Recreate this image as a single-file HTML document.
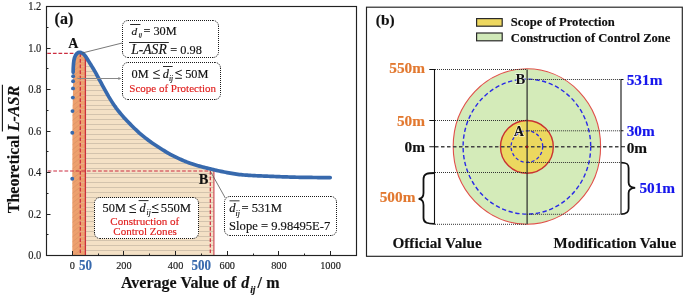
<!DOCTYPE html>
<html><head><meta charset="utf-8"><style>html,body{margin:0;padding:0;background:#fff;overflow:hidden}svg{display:block;will-change:transform}text{font-family:"Liberation Serif",serif}</style></head><body>
<svg width="685" height="297" viewBox="0 0 685 297" font-family="Liberation Serif">
<defs>
<pattern id="hz" patternUnits="userSpaceOnUse" x="0" y="2.1" width="10" height="4.855"><rect width="10" height="4.855" fill="#f4e1c6"/><rect y="0" width="10" height="1" fill="#dccab2"/></pattern>
<pattern id="hz2" patternUnits="userSpaceOnUse" x="0" y="2.1" width="10" height="4.855"><rect width="10" height="4.855" fill="#eda06e"/><rect y="0" width="10" height="1" fill="#e2a57e"/></pattern>
<pattern id="dg" patternUnits="userSpaceOnUse" width="7.5" height="7.5" patternTransform="rotate(-40)"><rect width="7.5" height="7.5" fill="#eda06e"/><rect width="7.5" height="0.6" fill="#d6946a"/></pattern>
</defs>
<rect width="685" height="297" fill="#fff"/>
<clipPath id="bc"><polygon points="85.40,255.50 85.40,56.19 86.84,58.24 88.29,60.64 89.73,62.95 91.18,65.28 92.62,67.62 94.06,70.00 95.51,72.50 96.95,75.15 98.39,77.89 99.84,80.60 101.28,83.25 102.73,85.89 104.17,88.51 105.61,91.10 107.06,93.71 108.50,96.27 109.94,98.71 111.39,101.02 112.83,103.25 114.28,105.37 115.72,107.40 117.16,109.32 118.61,111.17 120.05,112.96 121.50,114.70 122.94,116.39 124.38,118.02 125.83,119.60 127.27,121.11 128.71,122.59 130.16,124.06 131.60,125.53 133.05,126.99 134.49,128.41 135.93,129.79 137.38,131.15 138.82,132.47 140.27,133.73 141.71,134.95 143.15,136.15 144.60,137.32 146.04,138.47 147.48,139.58 148.93,140.66 150.37,141.72 151.82,142.74 153.26,143.73 154.70,144.69 156.15,145.63 157.59,146.56 159.03,147.49 160.48,148.40 161.92,149.33 163.37,150.24 164.81,151.15 166.25,152.04 167.70,152.90 169.14,153.73 170.59,154.52 172.03,155.28 173.47,156.02 174.92,156.73 176.36,157.43 177.80,158.10 179.25,158.76 180.69,159.41 182.14,160.04 183.58,160.67 185.02,161.28 186.47,161.87 187.91,162.43 189.36,162.97 190.80,163.48 192.24,163.97 193.69,164.43 195.13,164.88 196.57,165.32 198.02,165.74 199.46,166.15 200.91,166.55 202.35,166.94 203.79,167.32 205.24,167.68 206.68,168.04 208.12,168.40 209.57,168.75 211.01,169.09 212.46,169.44 213.90,169.78 213.90,255.50"/></clipPath>
<polygon points="85.40,255.50 85.40,56.19 86.84,58.24 88.29,60.64 89.73,62.95 91.18,65.28 92.62,67.62 94.06,70.00 95.51,72.50 96.95,75.15 98.39,77.89 99.84,80.60 101.28,83.25 102.73,85.89 104.17,88.51 105.61,91.10 107.06,93.71 108.50,96.27 109.94,98.71 111.39,101.02 112.83,103.25 114.28,105.37 115.72,107.40 117.16,109.32 118.61,111.17 120.05,112.96 121.50,114.70 122.94,116.39 124.38,118.02 125.83,119.60 127.27,121.11 128.71,122.59 130.16,124.06 131.60,125.53 133.05,126.99 134.49,128.41 135.93,129.79 137.38,131.15 138.82,132.47 140.27,133.73 141.71,134.95 143.15,136.15 144.60,137.32 146.04,138.47 147.48,139.58 148.93,140.66 150.37,141.72 151.82,142.74 153.26,143.73 154.70,144.69 156.15,145.63 157.59,146.56 159.03,147.49 160.48,148.40 161.92,149.33 163.37,150.24 164.81,151.15 166.25,152.04 167.70,152.90 169.14,153.73 170.59,154.52 172.03,155.28 173.47,156.02 174.92,156.73 176.36,157.43 177.80,158.10 179.25,158.76 180.69,159.41 182.14,160.04 183.58,160.67 185.02,161.28 186.47,161.87 187.91,162.43 189.36,162.97 190.80,163.48 192.24,163.97 193.69,164.43 195.13,164.88 196.57,165.32 198.02,165.74 199.46,166.15 200.91,166.55 202.35,166.94 203.79,167.32 205.24,167.68 206.68,168.04 208.12,168.40 209.57,168.75 211.01,169.09 212.46,169.44 213.90,169.78 213.90,255.50" fill="#f4e1c6"/>
<path d="M85.4,250.5H213.9 M85.4,245.5H213.9 M85.4,240.5H213.9 M85.4,236.5H213.9 M85.4,231.5H213.9 M85.4,226.5H213.9 M85.4,221.5H213.9 M85.4,216.5H213.9 M85.4,211.5H213.9 M85.4,207.5H213.9 M85.4,202.5H213.9 M85.4,197.5H213.9 M85.4,192.5H213.9 M85.4,187.5H213.9 M85.4,182.5H213.9 M85.4,177.5H213.9 M85.4,173.5H213.9 M85.4,168.5H213.9 M85.4,163.5H213.9 M85.4,158.5H213.9 M85.4,153.5H213.9 M85.4,148.5H213.9 M85.4,143.5H213.9 M85.4,139.5H213.9 M85.4,134.5H213.9 M85.4,129.5H213.9 M85.4,124.5H213.9 M85.4,119.5H213.9 M85.4,114.5H213.9 M85.4,109.5H213.9 M85.4,105.5H213.9 M85.4,100.5H213.9 M85.4,95.5H213.9 M85.4,90.5H213.9 M85.4,85.5H213.9 M85.4,80.5H213.9 M85.4,75.5H213.9 M85.4,71.5H213.9 M85.4,66.5H213.9 M85.4,61.5H213.9 M85.4,56.5H213.9 M85.4,51.5H213.9 M85.4,46.5H213.9" stroke="#d3c3ad" stroke-width="1" fill="none" clip-path="url(#bc)"/>
<clipPath id="oc"><polygon points="72.30,255.50 72.30,178.80 72.50,111.00 72.90,97.60 73.10,81.00 73.15,72.30 73.25,68.00 73.50,64.00 73.90,60.50 74.60,57.50 75.60,55.20 77.00,53.50 78.20,52.60 79.30,52.30 80.17,52.40 81.04,52.66 81.91,53.02 82.79,53.46 83.66,54.16 84.53,55.11 85.40,56.19 85.40,255.50"/></clipPath>
<polygon points="72.30,255.50 72.30,178.80 72.50,111.00 72.90,97.60 73.10,81.00 73.15,72.30 73.25,68.00 73.50,64.00 73.90,60.50 74.60,57.50 75.60,55.20 77.00,53.50 78.20,52.60 79.30,52.30 80.17,52.40 81.04,52.66 81.91,53.02 82.79,53.46 83.66,54.16 84.53,55.11 85.40,56.19 85.40,255.50" fill="#eda06e"/>
<g clip-path="url(#oc)"><path d="M80.3,41.43L72.3,47.73 M80.3,46.29L72.3,52.59 M80.3,51.14L72.3,57.44 M80.3,56.00L72.3,62.30 M80.3,60.85L72.3,67.15 M80.3,65.71L72.3,72.01 M80.3,70.56L72.3,76.86 M80.3,75.42L72.3,81.72 M80.3,80.27L72.3,86.57 M80.3,85.13L72.3,91.43 M80.3,89.98L72.3,96.28 M80.3,94.84L72.3,101.14 M80.3,99.69L72.3,105.99 M80.3,104.55L72.3,110.85 M80.3,109.40L72.3,115.70 M80.3,114.26L72.3,120.56 M80.3,119.11L72.3,125.41 M80.3,123.97L72.3,130.27 M80.3,128.82L72.3,135.12 M80.3,133.68L72.3,139.98 M80.3,138.53L72.3,144.83 M80.3,143.39L72.3,149.69 M80.3,148.24L72.3,154.54 M80.3,153.10L72.3,159.40 M80.3,157.95L72.3,164.25 M80.3,162.81L72.3,169.11 M80.3,167.66L72.3,173.96 M80.3,172.52L72.3,178.82 M80.3,177.38L72.3,183.68 M80.3,182.23L72.3,188.53 M80.3,187.08L72.3,193.38 M80.3,191.94L72.3,198.24 M80.3,196.79L72.3,203.09 M80.3,201.65L72.3,207.95 M80.3,206.50L72.3,212.81 M80.3,211.36L72.3,217.66 M80.3,216.21L72.3,222.51 M80.3,221.07L72.3,227.37 M80.3,225.92L72.3,232.22 M80.3,230.78L72.3,237.08 M80.3,235.63L72.3,241.94 M80.3,240.49L72.3,246.79 M80.3,245.34L72.3,251.65 M80.3,250.20L72.3,256.50 M80.3,255.05L72.3,261.35 M80.3,259.91L72.3,266.21" stroke="#d89466" stroke-width="0.7" fill="none"/><path d="M80.3,41.5H85.4 M80.3,46.5H85.4 M80.3,51.5H85.4 M80.3,56.5H85.4 M80.3,61.5H85.4 M80.3,66.5H85.4 M80.3,71.5H85.4 M80.3,75.5H85.4 M80.3,80.5H85.4 M80.3,85.5H85.4 M80.3,90.5H85.4 M80.3,95.5H85.4 M80.3,100.5H85.4 M80.3,105.5H85.4 M80.3,109.5H85.4 M80.3,114.5H85.4 M80.3,119.5H85.4 M80.3,124.5H85.4 M80.3,129.5H85.4 M80.3,134.5H85.4 M80.3,139.5H85.4 M80.3,143.5H85.4 M80.3,148.5H85.4 M80.3,153.5H85.4 M80.3,158.5H85.4 M80.3,163.5H85.4 M80.3,168.5H85.4 M80.3,173.5H85.4 M80.3,177.5H85.4 M80.3,182.5H85.4 M80.3,187.5H85.4 M80.3,192.5H85.4 M80.3,197.5H85.4 M80.3,202.5H85.4 M80.3,207.5H85.4 M80.3,211.5H85.4 M80.3,216.5H85.4 M80.3,221.5H85.4 M80.3,226.5H85.4 M80.3,231.5H85.4 M80.3,236.5H85.4 M80.3,240.5H85.4 M80.3,245.5H85.4 M80.3,250.5H85.4 M80.3,255.5H85.4 M80.3,260.5H85.4" stroke="#e8b08a" stroke-width="0.9" fill="none"/></g>
<line x1="85.4" y1="56.2" x2="85.4" y2="255.5" stroke="#cc2f3c" stroke-width="1.3"/>
<line x1="213.9" y1="169.8" x2="213.9" y2="255.5" stroke="#d0505a" stroke-width="1.2"/>
<line x1="47.3" y1="53.4" x2="80.3" y2="53.4" stroke="#cc2d40" stroke-width="1.2" stroke-dasharray="3.7 1.9"/>
<line x1="80.3" y1="53.4" x2="80.3" y2="255.5" stroke="#cc2d40" stroke-width="1.2" stroke-dasharray="3.7 1.9"/>
<line x1="47.7" y1="171.0" x2="210.3" y2="171.0" stroke="#cc2d40" stroke-width="1.2" stroke-dasharray="3.7 1.9"/>
<line x1="210.3" y1="171.0" x2="210.3" y2="255.5" stroke="#cc2d40" stroke-width="1.2" stroke-dasharray="3.7 1.9"/>
<path d="M73.15,72.30 L73.25,68.00 L73.50,64.00 L73.90,60.50 L74.60,57.50 L75.60,55.20 L77.00,53.50 L78.20,52.60 L79.30,52.30 L80.01,52.37 L80.73,52.55 L81.44,52.82 L82.16,53.14 L82.87,53.51 L83.58,54.09 L84.30,54.84 L85.01,55.70 L85.72,56.60 L86.44,57.60 L87.15,58.75 L87.87,59.95 L88.58,61.11 L89.29,62.25 L90.01,63.39 L90.72,64.55 L91.43,65.70 L92.15,66.86 L92.86,68.02 L93.58,69.19 L94.29,70.38 L95.00,71.61 L95.72,72.88 L96.43,74.18 L97.14,75.52 L97.86,76.87 L98.57,78.23 L99.29,79.57 L100.00,80.90 L101.00,82.74 L102.54,85.55 L104.08,88.34 L105.61,91.10 L107.15,93.88 L108.69,96.60 L110.23,99.17 L111.77,101.62 L113.31,103.96 L114.84,106.18 L116.38,108.29 L117.92,110.30 L119.46,112.23 L121.00,114.11 L122.54,115.92 L124.07,117.67 L125.61,119.36 L127.15,120.99 L128.69,122.57 L130.23,124.13 L131.77,125.70 L133.30,127.24 L134.84,128.75 L136.38,130.21 L137.92,131.65 L139.46,133.03 L140.99,134.35 L142.53,135.64 L144.07,136.90 L145.61,138.13 L147.15,139.32 L148.69,140.49 L150.22,141.61 L151.76,142.70 L153.30,143.75 L154.84,144.78 L156.38,145.78 L157.92,146.77 L159.45,147.75 L160.99,148.73 L162.53,149.71 L164.07,150.68 L165.61,151.64 L167.14,152.57 L168.68,153.47 L170.22,154.32 L171.76,155.14 L173.30,155.93 L174.84,156.69 L176.37,157.43 L177.91,158.15 L179.45,158.85 L180.99,159.54 L182.53,160.21 L184.07,160.88 L185.60,161.52 L187.14,162.13 L188.68,162.72 L190.22,163.28 L191.76,163.80 L193.30,164.31 L194.83,164.79 L196.37,165.26 L197.91,165.71 L199.45,166.15 L200.99,166.57 L202.52,166.99 L204.06,167.38 L205.60,167.77 L207.14,168.15 L208.68,168.53 L210.22,168.90 L211.75,169.27 L213.29,169.64 L214.83,170.00 L216.37,170.35 L217.91,170.70 L219.45,171.03 L220.98,171.36 L222.52,171.68 L224.06,171.99 L225.60,172.29 L227.14,172.59 L228.68,172.87 L230.21,173.14 L231.75,173.40 L233.29,173.66 L234.83,173.90 L236.37,174.14 L237.90,174.35 L239.44,174.54 L240.98,174.70 L242.52,174.84 L244.06,174.98 L245.60,175.10 L247.13,175.21 L248.67,175.32 L250.21,175.41 L251.75,175.50 L253.29,175.59 L254.83,175.66 L256.36,175.74 L257.90,175.81 L259.44,175.88 L260.98,175.94 L262.52,176.01 L264.06,176.07 L265.59,176.13 L267.13,176.19 L268.67,176.25 L270.21,176.31 L271.75,176.37 L273.28,176.44 L274.82,176.50 L276.36,176.56 L277.90,176.62 L279.44,176.68 L280.98,176.73 L282.51,176.79 L284.05,176.84 L285.59,176.90 L287.13,176.95 L288.67,177.00 L290.21,177.06 L291.74,177.10 L293.28,177.15 L294.82,177.19 L296.36,177.23 L297.90,177.26 L299.43,177.29 L300.97,177.31 L302.51,177.34 L304.05,177.36 L305.59,177.38 L307.13,177.41 L308.66,177.43 L310.20,177.45 L311.74,177.47 L313.28,177.49 L314.82,177.51 L316.36,177.52 L317.89,177.54 L319.43,177.55 L320.97,177.56 L322.51,177.57 L324.05,177.58 L325.59,177.59 L327.12,177.60 L328.66,177.60 L330.20,177.60" fill="none" stroke="#3769ad" stroke-width="3.7" stroke-linecap="round" stroke-linejoin="round"/>
<circle cx="72.25" cy="178.8" r="1.95" fill="#3769ad"/>
<circle cx="72.3" cy="132.7" r="1.95" fill="#3769ad"/>
<circle cx="72.5" cy="111.1" r="1.95" fill="#3769ad"/>
<circle cx="72.85" cy="97.6" r="1.95" fill="#3769ad"/>
<circle cx="73.0" cy="88.4" r="1.95" fill="#3769ad"/>
<circle cx="73.1" cy="81.2" r="1.95" fill="#3769ad"/>
<circle cx="73.15" cy="76.3" r="1.95" fill="#3769ad"/>
<rect x="46.5" y="6.5" width="310" height="249" fill="none" stroke="#222" stroke-width="1.15"/>
<path d="M46.5,255.50h4 M46.5,234.50h2 M46.5,214.50h4 M46.5,193.50h2 M46.5,172.50h4 M46.5,151.50h2 M46.5,131.50h4 M46.5,110.50h2 M46.5,89.50h4 M46.5,68.50h2 M46.5,48.50h4 M46.5,27.50h2 M46.5,6.50h4 M72.50,255.5v-4.5 M98.50,255.5v-2 M123.50,255.5v-4.5 M149.50,255.5v-2 M175.50,255.5v-4.5 M201.50,255.5v-2 M227.50,255.5v-4.5 M253.50,255.5v-2 M278.50,255.5v-4.5 M304.50,255.5v-2 M330.50,255.5v-4.5" stroke="#222" stroke-width="1" fill="none"/>
<text transform="translate(41.3,259.30) scale(1,1.1)" font-size="10.5" text-anchor="end" fill="#1a1a1a" stroke="#1a1a1a" stroke-width="0.15">0.0</text>
<text transform="translate(41.3,217.82) scale(1,1.1)" font-size="10.5" text-anchor="end" fill="#1a1a1a" stroke="#1a1a1a" stroke-width="0.15">0.2</text>
<text transform="translate(41.3,176.34) scale(1,1.1)" font-size="10.5" text-anchor="end" fill="#1a1a1a" stroke="#1a1a1a" stroke-width="0.15">0.4</text>
<text transform="translate(41.3,134.86) scale(1,1.1)" font-size="10.5" text-anchor="end" fill="#1a1a1a" stroke="#1a1a1a" stroke-width="0.15">0.6</text>
<text transform="translate(41.3,93.38) scale(1,1.1)" font-size="10.5" text-anchor="end" fill="#1a1a1a" stroke="#1a1a1a" stroke-width="0.15">0.8</text>
<text transform="translate(41.3,51.90) scale(1,1.1)" font-size="10.5" text-anchor="end" fill="#1a1a1a" stroke="#1a1a1a" stroke-width="0.15">1.0</text>
<text transform="translate(41.3,10.42) scale(1,1.1)" font-size="10.5" text-anchor="end" fill="#1a1a1a" stroke="#1a1a1a" stroke-width="0.15">1.2</text>
<text transform="translate(72.30,269.0) scale(1,1.1)" font-size="10.3" text-anchor="middle" fill="#1a1a1a" stroke="#1a1a1a" stroke-width="0.15">0</text>
<text transform="translate(123.94,269.0) scale(1,1.1)" font-size="10.3" text-anchor="middle" fill="#1a1a1a" stroke="#1a1a1a" stroke-width="0.15">200</text>
<text transform="translate(175.58,269.0) scale(1,1.1)" font-size="10.3" text-anchor="middle" fill="#1a1a1a" stroke="#1a1a1a" stroke-width="0.15">400</text>
<text transform="translate(227.22,269.0) scale(1,1.1)" font-size="10.3" text-anchor="middle" fill="#1a1a1a" stroke="#1a1a1a" stroke-width="0.15">600</text>
<text transform="translate(278.86,269.0) scale(1,1.1)" font-size="10.3" text-anchor="middle" fill="#1a1a1a" stroke="#1a1a1a" stroke-width="0.15">800</text>
<text transform="translate(330.50,269.0) scale(1,1.1)" font-size="10.3" text-anchor="middle" fill="#1a1a1a" stroke="#1a1a1a" stroke-width="0.15">1000</text>
<text transform="translate(85.6,269.9) scale(1,1.1)" font-size="13" font-weight="bold" text-anchor="middle" fill="#3769ad" stroke="#3769ad" stroke-width="0.15">50</text>
<text transform="translate(201.2,269.9) scale(1,1.1)" font-size="13" font-weight="bold" text-anchor="middle" fill="#3769ad" stroke="#3769ad" stroke-width="0.15">500</text>
<text x="121.0" y="287.5" font-size="16" font-weight="bold" fill="#111" stroke="#111" stroke-width="0.15">Average Value of</text>
<text x="241.3" y="287.5" font-size="16" font-weight="bold" font-style="italic" fill="#111" stroke="#111" stroke-width="0.15">d</text>
<text x="250.2" y="292.8" font-size="9.6" font-weight="bold" font-style="italic" fill="#111" stroke="#111" stroke-width="0.15">ij</text>
<text x="257.6" y="287.5" font-size="16" font-weight="bold" fill="#111" stroke="#111" stroke-width="0.15">/</text>
<text x="266.2" y="287.5" font-size="16" font-weight="bold" fill="#111" stroke="#111" stroke-width="0.15">m</text>
<g transform="translate(18.5,213.2) rotate(-90)"><text x="0" y="0" font-size="16" font-weight="bold" fill="#111" stroke="#111" stroke-width="0.15">Theoretical <tspan font-style="italic">L-ASR</tspan></text><line x1="81.6" y1="-16.1" x2="128.5" y2="-16.1" stroke="#111" stroke-width="1.1"/></g>
<text x="54.6" y="24.2" font-size="16" font-weight="bold" fill="#111" stroke="#111" stroke-width="0.15">(a)</text>
<text x="68.2" y="48.2" font-size="14" font-weight="bold" fill="#111" stroke="#111" stroke-width="0.15">A</text>
<text x="198.8" y="183.8" font-size="14.4" font-weight="bold" fill="#111" stroke="#111" stroke-width="0.15">B</text>
<line x1="82.2" y1="53.0" x2="122.2" y2="43.0" stroke="#555" stroke-width="0.8"/>
<line x1="77.4" y1="78.5" x2="120.0" y2="78.5" stroke="#888" stroke-width="1"/>
<path d="M121.5,78.5 l-3.2,-1.4 v2.8z" fill="#888"/>
<line x1="210.5" y1="171.5" x2="225.3" y2="198.0" stroke="#555" stroke-width="0.8"/>
<rect x="122.5" y="20.5" width="96" height="37" rx="5.5" ry="5.5" fill="#fff"/>
<path d="M128.0,20.5H213.0 M218.5,26.0V52.0 M213.0,57.5H128.0 M122.5,52.0V26.0" stroke="#1a1a1a" stroke-width="1" stroke-dasharray="1 1" fill="none"/>
<path d="M213.0,20.5 A5.5,5.5 0 0 1 218.5,26.0 M218.5,52.0 A5.5,5.5 0 0 1 213.0,57.5 M128.0,57.5 A5.5,5.5 0 0 1 122.5,52.0 M122.5,26.0 A5.5,5.5 0 0 1 128.0,20.5" stroke="#1a1a1a" stroke-width="1" stroke-dasharray="1.2 1" fill="none"/>
<rect x="122.5" y="62.5" width="98" height="37" rx="5.5" ry="5.5" fill="#fff"/>
<path d="M128.0,62.5H215.0 M220.5,68.0V94.0 M215.0,99.5H128.0 M122.5,94.0V68.0" stroke="#1a1a1a" stroke-width="1" stroke-dasharray="1 1" fill="none"/>
<path d="M215.0,62.5 A5.5,5.5 0 0 1 220.5,68.0 M220.5,94.0 A5.5,5.5 0 0 1 215.0,99.5 M128.0,99.5 A5.5,5.5 0 0 1 122.5,94.0 M122.5,68.0 A5.5,5.5 0 0 1 128.0,62.5" stroke="#1a1a1a" stroke-width="1" stroke-dasharray="1.2 1" fill="none"/>
<rect x="94.5" y="197.5" width="104" height="41" rx="5.5" ry="5.5" fill="#fff"/>
<path d="M100.0,197.5H193.0 M198.5,203.0V233.0 M193.0,238.5H100.0 M94.5,233.0V203.0" stroke="#1a1a1a" stroke-width="1" stroke-dasharray="1 1" fill="none"/>
<path d="M193.0,197.5 A5.5,5.5 0 0 1 198.5,203.0 M198.5,233.0 A5.5,5.5 0 0 1 193.0,238.5 M100.0,238.5 A5.5,5.5 0 0 1 94.5,233.0 M94.5,203.0 A5.5,5.5 0 0 1 100.0,197.5" stroke="#1a1a1a" stroke-width="1" stroke-dasharray="1.2 1" fill="none"/>
<rect x="224.5" y="196.5" width="112" height="39" rx="5.5" ry="5.5" fill="#fff"/>
<path d="M230.0,196.5H331.0 M336.5,202.0V230.0 M331.0,235.5H230.0 M224.5,230.0V202.0" stroke="#1a1a1a" stroke-width="1" stroke-dasharray="1 1" fill="none"/>
<path d="M331.0,196.5 A5.5,5.5 0 0 1 336.5,202.0 M336.5,230.0 A5.5,5.5 0 0 1 331.0,235.5 M230.0,235.5 A5.5,5.5 0 0 1 224.5,230.0 M224.5,202.0 A5.5,5.5 0 0 1 230.0,196.5" stroke="#1a1a1a" stroke-width="1" stroke-dasharray="1.2 1" fill="none"/>
<text x="131.4" y="34.6" font-size="11.4" font-style="italic" fill="#111" stroke="#111" stroke-width="0.15">d</text>
<text x="138.4" y="36.6" font-size="7" font-style="italic" fill="#111" stroke="#111" stroke-width="0.15">ij</text>
<line x1="130.1" y1="24.5" x2="140.4" y2="24.5" stroke="#111" stroke-width="0.9"/>
<text x="143.4" y="34.9" font-size="12.3" fill="#111" stroke="#111" stroke-width="0.15">= 30M</text>
<text x="131.2" y="53.6" font-size="13.6" font-style="italic" fill="#111" stroke="#111" stroke-width="0.15">L-ASR</text>
<text x="170.3" y="53.6" font-size="12.3" fill="#111" stroke="#111" stroke-width="0.15">= 0.98</text>
<line x1="129.0" y1="42.5" x2="168.8" y2="42.5" stroke="#111" stroke-width="0.9"/>
<text x="131.5" y="77.7" font-size="12.3" fill="#111" stroke="#111" stroke-width="0.15">0M</text>
<path d="M159.70,70.20 L153.40,72.70 L159.70,75.60 M153.10,78.30 H159.80" fill="none" stroke="#111" stroke-width="0.95"/>
<text x="162.7" y="77.7" font-size="12.3" font-style="italic" fill="#111" stroke="#111" stroke-width="0.15">d</text>
<text x="169.0" y="80.6" font-size="7.4" font-style="italic" fill="#111" stroke="#111" stroke-width="0.15">ij</text>
<line x1="163.0" y1="66.5" x2="172.6" y2="66.5" stroke="#111" stroke-width="0.9"/>
<path d="M181.80,70.20 L175.50,72.70 L181.80,75.60 M175.20,78.30 H181.90" fill="none" stroke="#111" stroke-width="0.95"/>
<text x="185.2" y="77.7" font-size="12.3" fill="#111" stroke="#111" stroke-width="0.15">50M</text>
<text x="129.3" y="92.4" font-size="11" fill="#e0201f" stroke="#e0201f" stroke-width="0.15">Scope of Protection</text>
<text x="102.6" y="211.9" font-size="12.3" fill="#111" stroke="#111" stroke-width="0.15">50M</text>
<path d="M135.90,204.40 L129.60,206.90 L135.90,209.80 M129.30,212.50 H136.00" fill="none" stroke="#111" stroke-width="0.95"/>
<text x="139.6" y="211.9" font-size="12.3" font-style="italic" fill="#111" stroke="#111" stroke-width="0.15">d</text>
<text x="146.6" y="214.8" font-size="7.4" font-style="italic" fill="#111" stroke="#111" stroke-width="0.15">ij</text>
<line x1="138.6" y1="200.6" x2="148.5" y2="200.6" stroke="#111" stroke-width="0.9"/>
<path d="M158.40,204.40 L152.10,206.90 L158.40,209.80 M151.80,212.50 H158.50" fill="none" stroke="#111" stroke-width="0.95"/>
<text x="160.8" y="211.9" font-size="12.7" fill="#111" stroke="#111" stroke-width="0.15">550M</text>
<text x="144.8" y="224.8" font-size="11.05" fill="#e0201f" text-anchor="middle" stroke="#e0201f" stroke-width="0.15">Construction of</text>
<text x="145.1" y="234.5" font-size="11.05" fill="#e0201f" text-anchor="middle" stroke="#e0201f" stroke-width="0.15">Control Zones</text>
<text x="229.3" y="212.3" font-size="12.6" font-style="italic" fill="#111" stroke="#111" stroke-width="0.15">d<tspan font-size="7.8" dy="3.8">ij</tspan></text><line x1="229.50" y1="200.83" x2="239.50" y2="200.83" stroke="#111" stroke-width="0.85"/>
<text x="241.5" y="212.3" font-size="12.6" fill="#111" stroke="#111" stroke-width="0.15">= 531M</text>
<text x="229.1" y="229.8" font-size="12.6" fill="#111" stroke="#111" stroke-width="0.15">Slope = 9.98495E-7</text>
<rect x="366.5" y="7.2" width="315.8" height="249.1" fill="none" stroke="#222" stroke-width="1.15"/>
<text x="375.8" y="25.4" font-size="15.4" font-weight="bold" fill="#111" stroke="#111" stroke-width="0.15">(b)</text>
<rect x="476.6" y="18.6" width="25.6" height="7.6" fill="#eed860" stroke="#2a2a2a" stroke-width="1.2"/>
<rect x="476.6" y="33.0" width="25.6" height="7.8" fill="#d0e9b8" stroke="#2a2a2a" stroke-width="1.2"/>
<text x="510.8" y="25.9" font-size="12.6" font-weight="bold" fill="#111" stroke="#111" stroke-width="0.15">Scope of Protection</text>
<text x="510.8" y="41.9" font-size="12.6" font-weight="bold" fill="#111" stroke="#111" stroke-width="0.15">Construction of Control Zone</text>
<ellipse cx="526.9" cy="146.5" rx="73.7" ry="77.7" fill="#d4ebb9" stroke="#e0504a" stroke-width="1.1"/>
<ellipse cx="526.9" cy="146.6" rx="63.8" ry="67.5" fill="none" stroke="#2a2ae6" stroke-width="1.4" stroke-dasharray="4.3 2.6"/>
<circle cx="526.9" cy="146.9" r="26.4" fill="#ecd85f" stroke="#c93232" stroke-width="1.4"/>
<circle cx="526.9" cy="146.6" r="15.8" fill="none" stroke="#2a2ae6" stroke-width="1.3" stroke-dasharray="3.2 2.4"/>
<path d="M435,69.5H526.9 M435,120.5H526.9 M435,172.5H526.9 M435,224.3H526.9 M526.9,79.5H621 M526.9,130.8H621 M526.9,162.5H621 M526.9,214.3H621" stroke="#333" stroke-width="1" stroke-dasharray="1 1" fill="none"/>
<line x1="527.1" y1="69.4" x2="527.1" y2="224.2" stroke="#2a2a2a" stroke-width="1.2"/>
<line x1="435" y1="146.8" x2="621" y2="146.8" stroke="#444" stroke-width="1.5" stroke-dasharray="3.5 2.5"/>
<circle cx="526.9" cy="146.8" r="1.4" fill="#8b1a1a"/>
<path d="M434.5,69V224.5 M429.3,69.5H434.5 M429.3,120.5H434.5 M429.3,146.8H434.5" stroke="#111" stroke-width="1.1" fill="none"/>
<path d="M621,79V214.5 M621,79.5H623.5 M621,130.8H623.5 M621,146.8H625" stroke="#111" stroke-width="1.1" fill="none"/>
<path d="M434.5,173.0 C428,173 423.5,173.5 423.5,179 L423.5,193 C423.5,197 421.5,198.7 418.6,198.9 C421.5,199.1 423.5,201 423.5,205 L423.5,218 C423.5,223 428,223.8 434.5,223.8" fill="none" stroke="#111" stroke-width="1.8"/>
<path d="M621.2,162.6 C626,162.6 628.6,163.5 628.6,168 L628.6,182.5 C628.6,186 630.5,187.6 635.2,187.8 C630.5,188 628.6,189.6 628.6,193 L628.6,208.5 C628.6,213 626,214.1 621.2,214.1" fill="none" stroke="#111" stroke-width="1.8"/>
<text x="425" y="73.3" font-size="15.3" font-weight="bold" fill="#e2782f" text-anchor="end" stroke="#e2782f" stroke-width="0.15">550m</text>
<text x="425" y="126.0" font-size="15.3" font-weight="bold" fill="#e2782f" text-anchor="end" stroke="#e2782f" stroke-width="0.15">50m</text>
<text x="425" y="152.0" font-size="15.3" font-weight="bold" fill="#111" text-anchor="end" stroke="#111" stroke-width="0.15">0m</text>
<text x="415.4" y="202.4" font-size="15.3" font-weight="bold" fill="#e2782f" text-anchor="end" stroke="#e2782f" stroke-width="0.15">500m</text>
<text x="626.7" y="85.3" font-size="15.3" font-weight="bold" fill="#1616ec" stroke="#1616ec" stroke-width="0.15">531m</text>
<text x="626.7" y="136.2" font-size="15.3" font-weight="bold" fill="#1616ec" stroke="#1616ec" stroke-width="0.15">30m</text>
<text x="626.7" y="152.6" font-size="15.3" font-weight="bold" fill="#111" stroke="#111" stroke-width="0.15">0m</text>
<text x="639.4" y="192.9" font-size="15.3" font-weight="bold" fill="#1616ec" stroke="#1616ec" stroke-width="0.15">501m</text>
<text x="513.8" y="136.0" font-size="14.2" font-weight="bold" fill="#111" stroke="#fff" stroke-opacity="0.6" stroke-width="1.6" paint-order="stroke">A</text>
<text x="515.5" y="83.8" font-size="14.6" font-weight="bold" fill="#111" stroke="#fff" stroke-opacity="0.6" stroke-width="1.6" paint-order="stroke">B</text>
<text x="392.4" y="247.9" font-size="15.25" font-weight="bold" fill="#111" stroke="#111" stroke-width="0.15">Official Value</text>
<text x="553.6" y="247.9" font-size="15.05" font-weight="bold" fill="#111" stroke="#111" stroke-width="0.15">Modification Value</text>
</svg>
</body></html>
